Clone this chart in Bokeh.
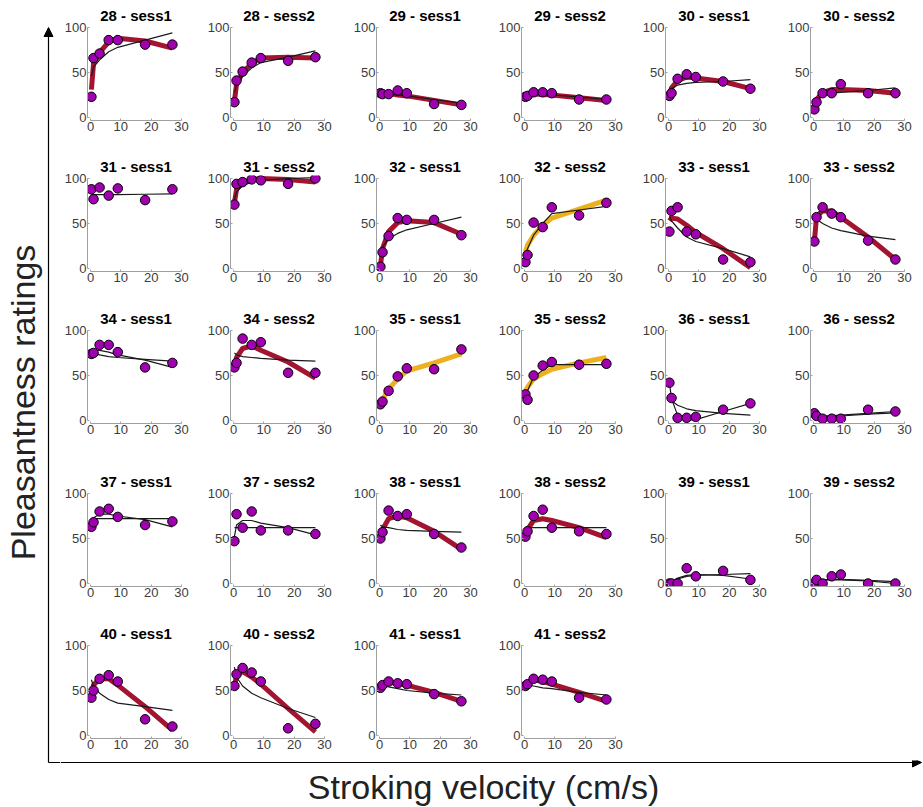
import math
from bokeh.plotting import figure
from bokeh.layouts import row, column
from bokeh.models import Range1d, FixedTicker, Arrow, NormalHead, Spacer
from bokeh.core.properties import value
from bokeh.embed import file_html
from bokeh.resources import INLINE

FONT = "Liberation Sans"

# ---------------- data ----------------
VELOCITY = [0.3, 1, 3, 6, 9, 18, 27]
X_TICKS = [0, 10, 20, 30]
Y_TICKS = [0, 50, 100]

TITLES = [
    "28 - sess1", "28 - sess2", "29 - sess1", "29 - sess2", "30 - sess1", "30 - sess2",
    "31 - sess1", "31 - sess2", "32 - sess1", "32 - sess2", "33 - sess1", "33 - sess2",
    "34 - sess1", "34 - sess2", "35 - sess1", "35 - sess2", "36 - sess1", "36 - sess2",
    "37 - sess1", "37 - sess2", "38 - sess1", "38 - sess2", "39 - sess1", "39 - sess2",
    "40 - sess1", "40 - sess2", "41 - sess1", "41 - sess2",
]

RATINGS = [
    [23, 66, 71, 86, 86, 81, 81], [17, 41, 51, 61, 66, 63, 67],
    [27, 26, 26, 30, 27, 15, 14], [23, 24, 28, 28, 27, 20, 20],
    [24, 27, 43, 48, 45, 40, 32], [9, 17, 27, 27, 37, 27, 27],
    [88, 77, 90, 81, 89, 76, 88], [71, 94, 96, 99, 98, 94, 100],
    [2, 18, 36, 56, 54, 54, 37], [7, 15, 51, 46, 68, 59, 73],
    [41, 64, 68, 41, 38, 10, 7], [30, 57, 68, 61, 57, 31, 10],
    [74, 75, 84, 84, 76, 59, 64], [59, 64, 91, 84, 87, 53, 53],
    [18, 21, 33, 49, 58, 57, 79], [29, 23, 50, 61, 65, 62, 63],
    [42, 25, 3, 3, 4, 12, 19], [8, 5, 2, 2, 2, 12, 10],
    [63, 68, 80, 83, 74, 65, 69], [47, 77, 62, 80, 59, 59, 55],
    [50, 57, 81, 75, 77, 55, 40], [52, 58, 75, 82, 62, 58, 55],
    [0, 0, 0, 17, 8, 14, 4], [0, 4, 0, 8, 10, 0, 0],
    [42, 50, 63, 67, 60, 18, 10], [55, 68, 75, 70, 60, 8, 13],
    [53, 56, 60, 58, 57, 46, 38], [55, 57, 63, 62, 60, 42, 40],
]

RED_FIT = [
    [31, 60, 72, 84, 88, 85, 77], [18, 37, 50, 60, 66, 67, 66],
    [28, 28, 27, 25, 24, 19, 14], [25, 26, 26, 25.5, 25, 22, 19],
    [25, 33, 41, 45, 44, 40, 32], [12, 20, 28, 31, 31, 30, 27],
    None, [73, 88, 95, 99, 100, 99, 96],
    [3, 22, 41, 51, 53, 51, 38], None,
    [53, 56, 55, 48, 40, 22, 1], [30, 58, 64, 64, 57, 35, 10],
    None, [58, 70, 80, 83, 78, 65, 47],
    None, None,
    None, None,
    None, None,
    [50, 60, 72, 75, 73, 58, 38], [52, 60, 70, 72, 70, 62, 51],
    None, None,
    [45, 56, 63, 63, 56, 32, 6], [52, 68, 71, 65, 57, 30, 4],
    [54, 57, 59, 58, 56, 48, 38], [54, 58, 62, 60, 57, 48, 38],
]

GOLD_FIT = [None] * 28
GOLD_FIT[9] = [18, 26, 37, 48, 56, 66, 76]
GOLD_FIT[14] = [17, 23, 35, 46, 55, 64, 74]
GOLD_FIT[15] = [32, 37, 46, 52, 57, 64, 70]

BLACK_FIT_A = [
    [46, 56, 64, 73, 78, 86, 94], [28, 36, 46, 55, 61, 67, 74],
    [27, 27, 26, 25, 24, 20, 16], [24, 25, 26, 25.5, 25, 23, 20],
    [28, 32, 36, 38, 39, 40, 42], [16, 19, 24, 27, 28, 30, 33],
    [82, 82, 82, 82, 82, 82.5, 83], [77, 85, 92, 96, 98, 100, 101],
    [18, 24, 33, 39, 43, 50, 57], [14, 22, 37, 50, 61, 65, 69],
    [58, 53, 45, 35, 30, 22, 13], [57, 55, 50, 45, 42, 36, 32],
    [79, 78, 78, 76, 73, 67, 59], [75, 73, 71, 70, 69, 67, 66],
    None, [27, 33, 48, 56, 62, 62, 62],
    [42, 24, 6, 0, 1, 10, 19], [4, 4.5, 5, 5.5, 6, 8, 10],
    [72, 72, 72, 72, 72, 72, 72], [62, 62, 62, 62, 62, 62, 62],
    [65, 63, 62, 60, 59, 58, 57], [62, 62, 62, 62, 62, 62, 62],
    [0, 1, 5, 8, 9, 10, 11], [3, 3.5, 4, 4.5, 4.5, 3.5, 2],
    [62, 55, 47, 40, 36, 32, 28], [76, 65, 55, 47, 42, 30, 20],
    [58, 56, 54, 52, 50, 47, 45], [57, 56, 55, 53, 52, 48, 45],
]

BLACK_FIT_B = [None] * 28
BLACK_FIT_B[12] = [76, 75, 73, 71, 70, 68, 66]
BLACK_FIT_B[16] = [30, 22, 17, 13, 11, 8, 6]
BLACK_FIT_B[17] = [6, 5, 4, 4, 5, 7, 8.5]
BLACK_FIT_B[18] = [66, 73, 77, 77, 75, 71, 63]
BLACK_FIT_B[19] = [52, 65, 70, 70, 67, 62, 54]
BLACK_FIT_B[22] = [0, 2, 6, 9, 10, 9, 5]
BLACK_FIT_B[23] = [2, 3, 4, 4, 4, 3, 0]

# ---------------- layout / style ----------------
COL_W = [143, 146, 145, 144, 145, 140]
ROW_H = [151, 152, 163, 152, 142]
LEFT_W = 60
BOTTOM_H = 807 - sum(ROW_H)
AX_PX_X = 91
AX_PX_Y = 90
PAD = 3
FRAME_L = 30 - PAD
FRAME_T = 27 - PAD

RED = "#A2142F"
GOLD = "#EDB120"
PURPLE = "#A100B0"
AXIS_GREY = "#a0a0a0"
LABEL_GREY = "#3c3c3c"


def make_panel(i, w, h):
    ux = 30.0 / AX_PX_X
    uy = 100.0 / AX_PX_Y
    p = figure(width=w, height=h, output_backend="svg", toolbar_location=None,
               x_range=Range1d(-PAD * ux, 30 + PAD * ux),
               y_range=Range1d(-PAD * uy, 100 + PAD * uy),
               min_border_left=FRAME_L,
               min_border_right=w - FRAME_L - AX_PX_X - 2 * PAD,
               min_border_top=FRAME_T,
               min_border_bottom=h - FRAME_T - AX_PX_Y - 2 * PAD,
               title=TITLES[i])
    p.outline_line_color = None
    p.background_fill_color = "white"
    p.border_fill_color = "white"
    p.xgrid.visible = False
    p.ygrid.visible = False
    p.title.align = "center"
    p.title.text_font = FONT
    p.title.text_font_size = "15px"
    p.title.text_font_style = "bold"
    p.title.text_color = "black"
    p.title.standoff = 2

    for ax, ticks, bnd in ((p.xaxis, X_TICKS, (0, 30)), (p.yaxis, Y_TICKS, (0, 100))):
        ax.ticker = FixedTicker(ticks=ticks)
        ax.bounds = bnd
        ax.axis_line_color = AXIS_GREY
        ax.axis_line_width = 1
        ax.major_tick_line_color = AXIS_GREY
        ax.major_tick_in = 2
        ax.major_tick_out = 0
        ax.minor_tick_line_color = None
        ax.major_label_text_font = FONT
        ax.major_label_text_font_size = "13px"
        ax.major_label_text_color = LABEL_GREY
        ax.major_label_standoff = 1

    if RED_FIT[i] is not None:
        p.line(VELOCITY, RED_FIT[i], line_color=RED, line_width=5, line_join="round")
    if GOLD_FIT[i] is not None:
        p.line(VELOCITY, GOLD_FIT[i], line_color=GOLD, line_width=5, line_join="round")
    for fit in (BLACK_FIT_A[i], BLACK_FIT_B[i]):
        if fit is not None:
            p.line(VELOCITY, fit, line_color="#1a1a1a", line_width=1.2)
    p.scatter(VELOCITY, RATINGS[i], size=9.5, fill_color=PURPLE,
              line_color="black", line_width=1)
    return p


rows_ = []
idx = 0
for r in range(5):
    items = []
    for c in range(6):
        if idx < len(TITLES) and not (r == 4 and c >= 4):
            items.append(make_panel(idx, COL_W[c], ROW_H[r]))
            idx += 1
        else:
            items.append(Spacer(width=COL_W[c], height=ROW_H[r]))
    rows_.append(row(*items, spacing=0))
grid = column(*rows_, spacing=0)

# left big axis with label
lf = figure(width=LEFT_W, height=807, output_backend="svg", toolbar_location=None,
            x_range=Range1d(0, LEFT_W), y_range=Range1d(0, 807),
            x_axis_location=None, y_axis_location=None,
            min_border_left=0, min_border_right=0, min_border_top=0, min_border_bottom=0)
lf.outline_line_color = None
lf.grid.visible = False
lf.segment(x0=[48], y0=[45], x1=[LEFT_W], y1=[45], line_color="black", line_width=1.2)
lf.add_layout(Arrow(x_start=48, y_start=45, x_end=48, y_end=780,
                    line_color="black", line_width=1.2,
                    end=NormalHead(size=9, fill_color="black", line_color="black")))
lf.text(x=[22], y=[405], text=["Pleasantness ratings"], angle=math.pi / 2,
        text_align="center", text_baseline="middle", text_font=value(FONT),
        text_font_size="34px", text_color="#222222")

# bottom big axis with label
bf = figure(width=923 - LEFT_W, height=BOTTOM_H, output_backend="svg", toolbar_location=None,
            x_range=Range1d(LEFT_W, 923), y_range=Range1d(0, BOTTOM_H),
            x_axis_location=None, y_axis_location=None,
            min_border_left=0, min_border_right=0, min_border_top=0, min_border_bottom=0)
bf.outline_line_color = None
bf.grid.visible = False
bf.add_layout(Arrow(x_start=LEFT_W, y_start=45, x_end=921, y_end=45,
                    line_color="black", line_width=1.2,
                    end=NormalHead(size=9, fill_color="black", line_color="black")))
bf.text(x=[483], y=[21], text=["Stroking velocity (cm/s)"],
        text_align="center", text_baseline="middle", text_font=value(FONT),
        text_font_size="34px", text_color="#222222")

layout = row(lf, column(grid, bf, spacing=0), spacing=0)

with open("out.html", "w") as f:
    f.write(file_html(layout, INLINE))
